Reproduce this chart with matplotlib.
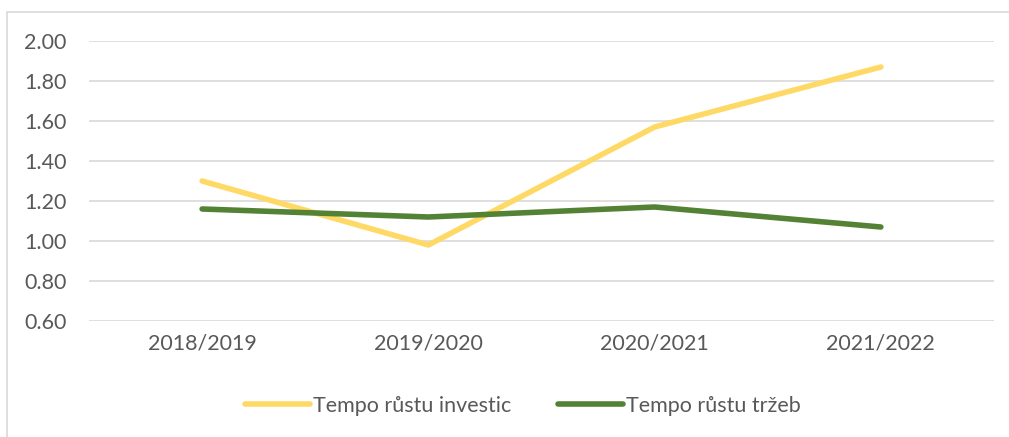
import matplotlib.pyplot as plt
from matplotlib.patches import Rectangle

plt.rcParams["font.family"] = ["Lato", "DejaVu Sans"]

roky = ["2018/2019", "2019/2020", "2020/2021", "2021/2022"]
investice = [1.30, 0.98, 1.57, 1.87]
trzby = [1.16, 1.12, 1.17, 1.07]
yticks = [0.60, 0.80, 1.00, 1.20, 1.40, 1.60, 1.80, 2.00]

W, H = 1009, 437
fig = plt.figure(figsize=(W / 100, H / 100), dpi=100)
ax = fig.add_axes([89 / W, 1 - 321 / H, (994 - 89) / W, (321 - 41) / H])

# ramecek grafu (vpravo a dole oriznuty)
fig.patches.append(Rectangle((6.5 / W, -0.1), 1.2, 1 - 12.5 / H + 0.1,
                             transform=fig.transFigure, fill=False,
                             edgecolor="#d9d9d9", linewidth=1.2))

x = range(len(roky))
ax.plot(x, investice, color="#ffd966", lw=4, solid_capstyle="round",
        label="Tempo růstu investic", zorder=3)
ax.plot(x, trzby, color="#548235", lw=4, solid_capstyle="round",
        label="Tempo růstu tržeb", zorder=3)

ax.set_xlim(-0.5, len(roky) - 0.5)
ax.set_ylim(0.6, 2.0)
ax.set_yticks(yticks)
ax.set_yticklabels(["%.2f" % v for v in yticks])
ax.set_xticks(list(x))
ax.set_xticklabels(roky)
ax.grid(axis="y", color="#d9d9d9", lw=1.2)
ax.set_axisbelow(True)
for s in ax.spines.values():
    s.set_visible(False)
ax.tick_params(length=0, labelsize=15.5, colors="#595959")
ax.tick_params(axis="y", pad=16)
ax.tick_params(axis="x", pad=9)

leg = fig.legend(loc="center", bbox_to_anchor=(523 / W, 1 - 406 / H), ncol=2,
                 frameon=False, fontsize=15.5, handlelength=3.0,
                 handletextpad=0.15, columnspacing=2.2)
for t in leg.get_texts():
    t.set_color("#595959")

fig.savefig("out.png", dpi=100)
